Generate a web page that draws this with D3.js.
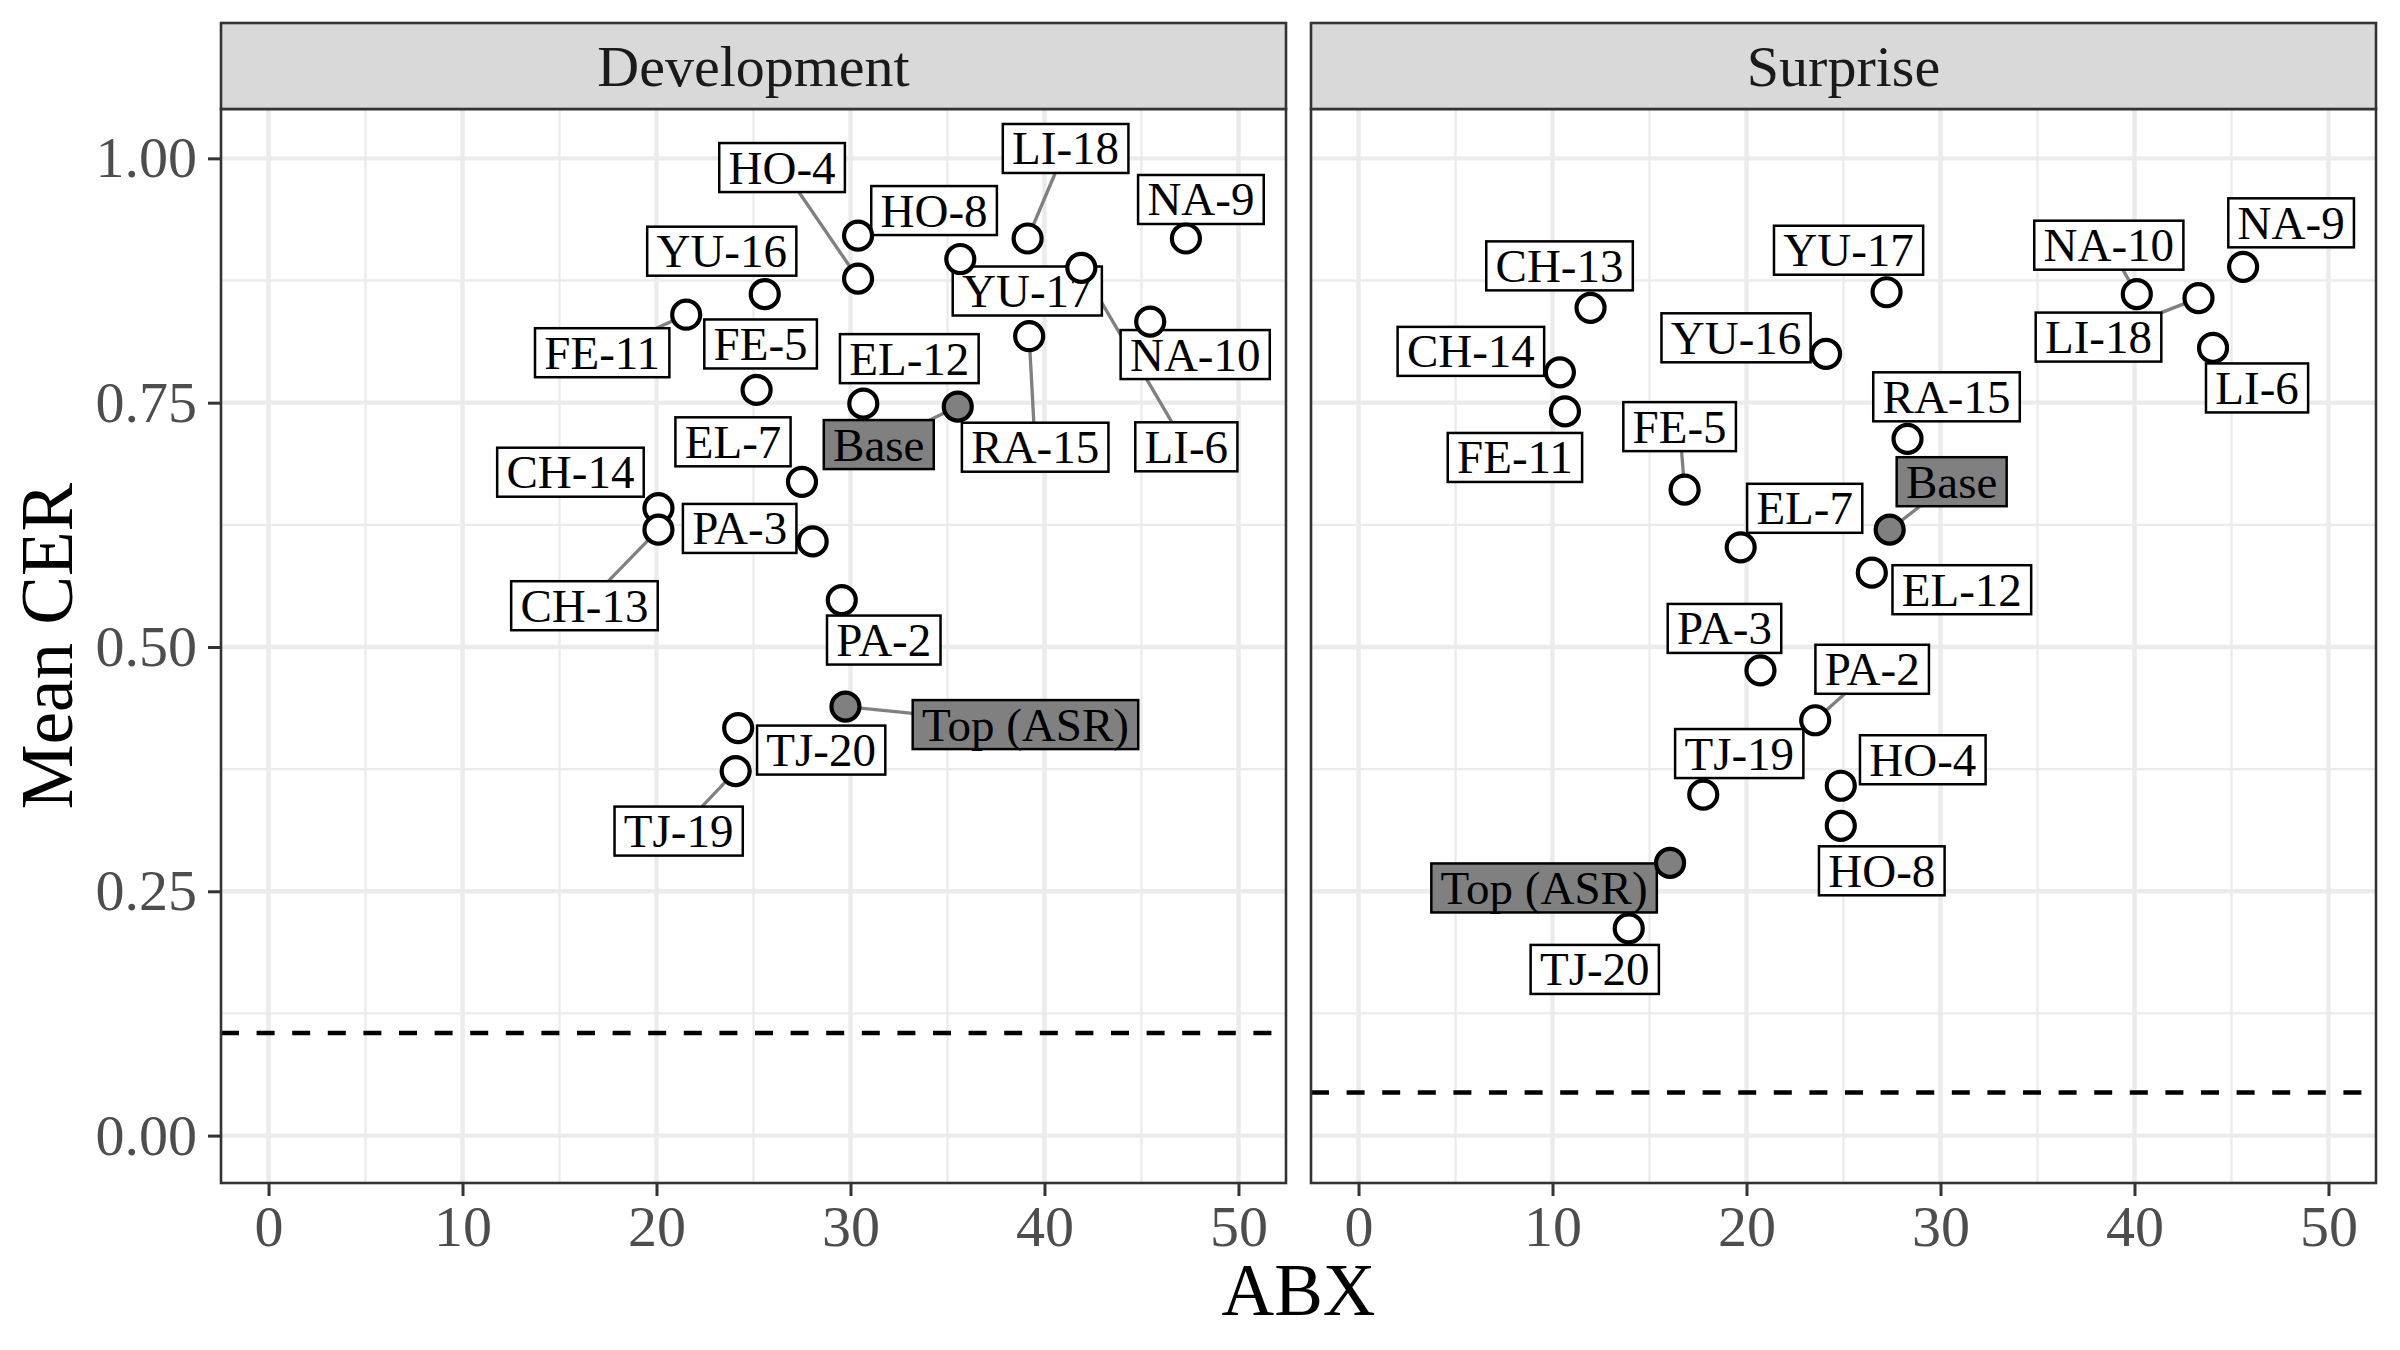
<!DOCTYPE html>
<html>
<head>
<meta charset="utf-8">
<script src="https://cdn.jsdelivr.net/npm/d3@7"></script>
<style>
  body { margin: 0; background: #fff; }
  svg { display: block; }
</style>
</head>
<body>
<div id="chart"></div>
<script>
// DATA //

const panelNames = ["Development", "Surprise"];
const speakers = ["HO-4", "HO-8", "LI-18", "NA-9", "YU-17", "LI-6", "YU-16", "FE-11", "NA-10", "RA-15",
  "FE-5", "EL-12", "Base", "EL-7", "CH-14", "CH-13", "PA-3", "PA-2", "Top (ASR)", "TJ-20", "TJ-19"];
const highlighted = ["Base", "Top (ASR)"];

const devABX = [30.39, 30.39, 39.13, 47.29, 35.66, 41.9, 25.58, 21.53, 45.45, 39.21,
  25.16, 30.66, 35.53, 27.5, 20.1, 20.1, 28.05, 29.55, 29.74, 24.21, 24.08];
const devCER = [0.877, 0.921, 0.918, 0.918, 0.897, 0.888, 0.861, 0.840, 0.833, 0.818,
  0.763, 0.749, 0.746, 0.669, 0.642, 0.620, 0.608, 0.548, 0.439, 0.417, 0.373];

const surABX = [24.86, 24.86, 43.3, 45.6, 27.22, 44.05, 24.1, 10.64, 40.12, 28.3,
  16.81, 26.46, 27.38, 19.7, 10.38, 11.96, 20.72, 23.54, 16.06, 13.93, 17.77];
const surCER = [0.358, 0.317, 0.857, 0.889, 0.863, 0.806, 0.800, 0.741, 0.861, 0.713,
  0.661, 0.576, 0.620, 0.602, 0.781, 0.847, 0.476, 0.425, 0.279, 0.212, 0.349];

// dashed reference line per panel
const refCER = [0.105, 0.044];

const xTicks = [0, 10, 20, 30, 40, 50];
const yTicks = [0, 0.25, 0.5, 0.75, 1];

// LAYOUT //

// where the repelled labels ended up, px offset from their point (+ whether a segment is drawn)
const labelLayout = [
  { // Development
    "HO-4": [-76, -111, 1], "HO-8": [76, -25, 0], "LI-18": [38, -90, 1], "NA-9": [15, -39, 0],
    "YU-17": [67, 32, 0], "LI-6": [105, 179, 1], "YU-16": [-43, -43, 0], "FE-11": [-84, 38, 1],
    "NA-10": [45, 33, 0], "RA-15": [6, 111, 1], "FE-5": [4, -46, 0], "EL-12": [46, -45, 0],
    "Base": [-79, 38, 1], "EL-7": [-69, -40, 0], "CH-14": [-88, -36, 0], "CH-13": [-74, 76, 1],
    "PA-3": [-73, -13, 0], "PA-2": [42, 40, 0], "Top (ASR)": [180, 18, 1], "TJ-20": [83, 22, 0],
    "TJ-19": [-57, 60, 1]
  },
  { // Surprise
    "HO-4": [82, -26, 0], "HO-8": [41, 45, 0], "LI-18": [-100, 39, 1], "NA-9": [48, -44, 0],
    "YU-17": [-38, -42, 0], "LI-6": [44, 40, 0], "YU-16": [-90, -16, 0], "FE-11": [-50, 46, 0],
    "NA-10": [-28, -49, 1], "RA-15": [39, -42, 0], "FE-5": [-5, -63, 1], "EL-12": [90, 17, 0],
    "Base": [62, -48, 1], "EL-7": [64, -39, 0], "CH-14": [-89, -21, 0], "CH-13": [-31, -42, 0],
    "PA-3": [-36, -42, 0], "PA-2": [57, -51, 1], "Top (ASR)": [-126, 25, 0], "TJ-20": [-34, 41, 0],
    "TJ-19": [36, -41, 0]
  }
];

const W = 2400, H = 1350;
const panelLeft = [221, 1311];
const panelW = 1065;
const panelTop = 109, panelBottom = 1183;
const stripTop = 23;
const font = "'Liberation Serif', 'Times New Roman', 'DejaVu Serif', serif";
const greyFill = "#808080";

const svg = d3.select("#chart").append("svg")
  .attr("width", W).attr("height", H)
  .style("font-family", font);

svg.append("rect").attr("width", W).attr("height", H).attr("fill", "#fff");

const yScale = d3.scaleLinear()
  .domain([-0.0485, 1.0505])
  .range([panelBottom, panelTop]);

const panelData = [
  speakers.map((s, i) => ({ name: s, abx: devABX[i], cer: devCER[i] })),
  speakers.map((s, i) => ({ name: s, abx: surABX[i], cer: surCER[i] }))
];

panelNames.forEach((pname, p) => {
  const x0 = panelLeft[p];
  const xScale = d3.scaleLinear()
    .domain([-2.45, 52.45])
    .range([x0, x0 + panelW]);

  const g = svg.append("g");

  // minor grid
  const xMinor = d3.range(5, 50, 10);
  const yMinor = [0.125, 0.375, 0.625, 0.875];
  g.selectAll(".vminor").data(xMinor).enter().append("line")
    .attr("x1", d => xScale(d)).attr("x2", d => xScale(d))
    .attr("y1", panelTop).attr("y2", panelBottom)
    .attr("stroke", "#ebebeb").attr("stroke-width", 2.3);
  g.selectAll(".hminor").data(yMinor).enter().append("line")
    .attr("x1", x0).attr("x2", x0 + panelW)
    .attr("y1", d => yScale(d)).attr("y2", d => yScale(d))
    .attr("stroke", "#ebebeb").attr("stroke-width", 2.3);

  // major grid
  g.selectAll(".vmajor").data(xTicks).enter().append("line")
    .attr("x1", d => xScale(d)).attr("x2", d => xScale(d))
    .attr("y1", panelTop).attr("y2", panelBottom)
    .attr("stroke", "#ebebeb").attr("stroke-width", 4.4);
  g.selectAll(".hmajor").data(yTicks).enter().append("line")
    .attr("x1", x0).attr("x2", x0 + panelW)
    .attr("y1", d => yScale(d)).attr("y2", d => yScale(d))
    .attr("stroke", "#ebebeb").attr("stroke-width", 4.4);

  // dashed reference line
  g.append("line")
    .attr("x1", x0).attr("x2", x0 + panelW)
    .attr("y1", yScale(refCER[p])).attr("y2", yScale(refCER[p]))
    .attr("stroke", "#000").attr("stroke-width", 4.5)
    .attr("stroke-dasharray", "18,17.6");

  const layout = labelLayout[p];
  const data = panelData[p];
  const boxH = 49, pad = 9.3;

  // segments
  const segG = g.append("g");
  const labG = g.append("g");

  data.forEach(d => {
    const px = xScale(d.abx), py = yScale(d.cer);
    const [ox, oy, seg] = layout[d.name];
    const cx = px + ox, cy = py + oy;
    const isHi = highlighted.includes(d.name);

    const lab = labG.append("g").attr("transform", `translate(${cx},${cy})`);
    const t = lab.append("text")
      .attr("text-anchor", "middle")
      .attr("y", 16)
      .attr("font-size", 47)
      .attr("fill", "#000")
      .text(d.name);
    const w = t.node().getComputedTextLength() + 2 * pad;
    lab.insert("rect", "text")
      .attr("x", -w / 2).attr("y", -boxH / 2)
      .attr("width", w).attr("height", boxH)
      .attr("fill", isHi ? greyFill : "#fff")
      .attr("stroke", "#000").attr("stroke-width", 2.5);

    if (seg) {
      const s = Math.min((w / 2) / Math.abs(ox || 1e-6), (boxH / 2) / Math.abs(oy || 1e-6));
      segG.append("line")
        .attr("x1", px).attr("y1", py)
        .attr("x2", cx - s * ox).attr("y2", cy - s * oy)
        .attr("stroke", greyFill).attr("stroke-width", 3.3);
    }
  });

  // points on top
  g.selectAll("circle").data(data).enter().append("circle")
    .attr("cx", d => xScale(d.abx))
    .attr("cy", d => yScale(d.cer))
    .attr("r", 14)
    .attr("fill", d => highlighted.includes(d.name) ? greyFill : "#fff")
    .attr("stroke", "#000").attr("stroke-width", 4.2);

  // panel border
  g.append("rect")
    .attr("x", x0).attr("y", panelTop)
    .attr("width", panelW).attr("height", panelBottom - panelTop)
    .attr("fill", "none").attr("stroke", "#333").attr("stroke-width", 2.6);

  // strip
  g.append("rect")
    .attr("x", x0).attr("y", stripTop)
    .attr("width", panelW).attr("height", panelTop - stripTop)
    .attr("fill", "#d9d9d9").attr("stroke", "#333").attr("stroke-width", 2.6);
  g.append("text")
    .attr("x", x0 + panelW / 2).attr("y", 86)
    .attr("text-anchor", "middle")
    .attr("font-size", 58).attr("fill", "#1a1a1a")
    .text(pname);

  // x axis
  const xAxis = g.append("g")
    .attr("transform", `translate(0,${panelBottom})`)
    .call(d3.axisBottom(xScale).tickValues(xTicks).tickSize(13).tickPadding(9).tickFormat(d3.format("d")));
  xAxis.select(".domain").remove();
  xAxis.selectAll("line").attr("stroke", "#333").attr("stroke-width", 3);
  xAxis.selectAll("text")
    .attr("font-family", font).attr("font-size", 58).attr("fill", "#4d4d4d");

  // y axis only on first panel
  if (p === 0) {
    const yAxis = g.append("g")
      .attr("transform", `translate(${x0},0)`)
      .call(d3.axisLeft(yScale).tickValues(yTicks).tickSize(13).tickPadding(11).tickFormat(d3.format(".2f")));
    yAxis.select(".domain").remove();
    yAxis.selectAll("line").attr("stroke", "#333").attr("stroke-width", 3);
    yAxis.selectAll("text")
      .attr("font-family", font).attr("font-size", 58).attr("fill", "#4d4d4d");
  }
});

// axis titles
svg.append("text")
  .attr("x", (panelLeft[0] + panelLeft[1] + panelW) / 2)
  .attr("y", 1315)
  .attr("text-anchor", "middle")
  .attr("font-size", 73).attr("fill", "#000")
  .text("ABX");

svg.append("text")
  .attr("transform", `translate(72,${(panelTop + panelBottom) / 2}) rotate(-90)`)
  .attr("text-anchor", "middle")
  .attr("font-size", 73).attr("fill", "#000")
  .text("Mean CER");
</script>
</body>
</html>
